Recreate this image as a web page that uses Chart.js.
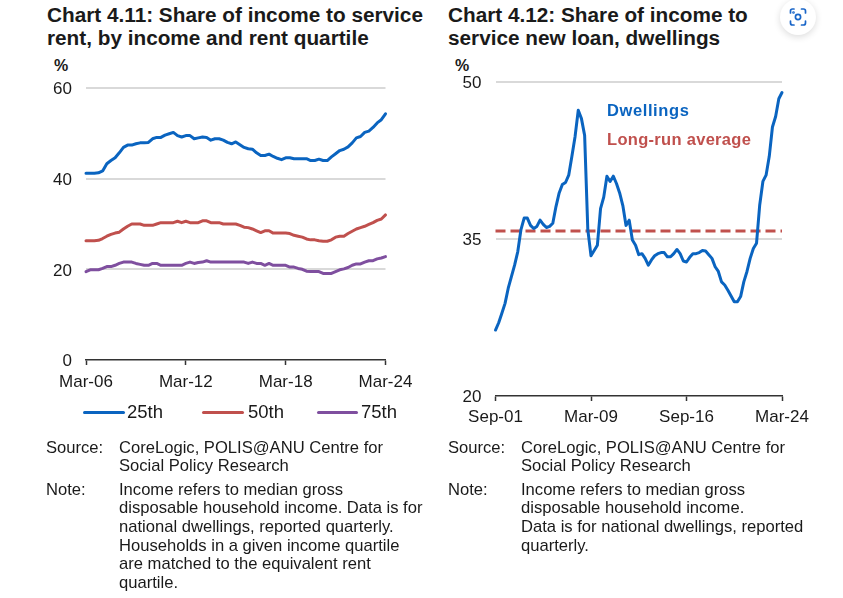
<!DOCTYPE html>
<html><head><meta charset="utf-8">
<script src="https://cdn.jsdelivr.net/npm/chart.js@4"></script>
<style>
html,body{margin:0;padding:0;background:#fff}
body{position:relative;width:843px;height:598px;overflow:hidden;font-family:"Liberation Sans",Arial,sans-serif;color:#1a1a1a}
canvas{position:absolute}
.t{position:absolute;white-space:nowrap}
.title{font-weight:bold;font-size:20.75px;line-height:23px}
.unit{font-weight:bold;font-size:16px}
.foot{font-size:16.6px;line-height:18.7px}
.leg{font-size:18.5px;line-height:20px}
.sw{position:absolute;height:3px;border-radius:2px}
.ann{font-weight:bold;font-size:16.5px;letter-spacing:.3px}
</style></head><body>
<div class="t title" style="left:47px;top:3px">Chart 4.11: Share of income to service<br>rent, by income and rent quartile</div>
<div class="t title" style="left:448px;top:3px">Chart 4.12: Share of income to<br>service new loan, dwellings</div>
<div class="t unit" style="left:54px;top:57px">%</div>
<div class="t unit" style="left:455px;top:57px">%</div>
<canvas id="c1" width="420" height="440" style="left:0;top:70px;width:420px;height:440px"></canvas>
<canvas id="c2" width="415" height="370" style="left:425px;top:70px;width:415px;height:370px"></canvas>
<div id="legend"></div>
<div class="t ann" style="left:607px;top:101px;color:#0a64c0;letter-spacing:.6px">Dwellings</div>
<div class="t ann" style="left:607px;top:130px;color:#c0504d">Long-run average</div>
<div class="t foot" style="left:46px;top:438.500px">Source:</div>
<div class="t foot" style="left:119px;top:438.500px">CoreLogic, POLIS@ANU Centre for<br>Social Policy Research</div>
<div class="t foot" style="left:46px;top:480.500px">Note:</div>
<div class="t foot" style="left:119px;top:480.500px">Income refers to median gross<br>disposable household income. Data is for<br>national dwellings, reported quarterly.<br>Households in a given income quartile<br>are matched to the equivalent rent<br>quartile.</div>
<div class="t foot" style="left:448px;top:438.500px">Source:</div>
<div class="t foot" style="left:521px;top:438.500px">CoreLogic, POLIS@ANU Centre for<br>Social Policy Research</div>
<div class="t foot" style="left:448px;top:480.500px">Note:</div>
<div class="t foot" style="left:521px;top:480.500px">Income refers to median gross<br>disposable household income.<br>Data is for national dwellings, reported<br>quarterly.</div>
<div style="position:absolute;left:780px;top:-1px;width:36px;height:36px;border-radius:50%;background:#fff;box-shadow:0 2px 7px rgba(0,0,0,.14)">
<svg width="36" height="36" viewBox="0 0 36 36" fill="none" stroke="#1a66c8" stroke-width="1.7" stroke-linecap="round">
<path d="M10.500 14v-2a2 2 0 0 1 2-2h1.500M21.500 10h2a2 2 0 0 1 2 2v2M25.500 22v2a2 2 0 0 1-2 2h-2M14 26h-1.500a2 2 0 0 1-2-2v-2"/>
<circle cx="18" cy="18" r="2.600"/><circle cx="13.500" cy="13.500" r=".5"/></svg></div>
<script>
const monthNames = ["Mar","Jun","Sep","Dec"];
function quarters(startYear, startQ, n){
  const out=[];
  for(let i=0;i<n;i++){
    const k=startQ+i, y=startYear+Math.floor(k/4);
    out.push(monthNames[k%4]+"-"+String(y%100).padStart(2,"0"));
  }
  return out;
}
const rentValues25 = [41.2,41.2,41.2,41.3,41.7,43.3,44,44.6,45.7,46.9,47.4,47.4,47.7,47.9,47.9,48,48.8,49.1,49.1,49.6,49.9,50.2,49.5,49.2,49.5,49.5,48.8,49,49.2,49.1,48.5,48.8,48.8,48.5,48,47.7,48.1,47.5,46.9,46.6,46.5,45.7,45.1,45.1,45.4,44.9,44.5,44.2,44.6,44.6,44.4,44.4,44.4,44.4,44,44,44.3,44,44,44.8,45.5,46.2,46.5,47,47.9,49,49.3,50.2,50.5,51.3,52.3,53,54.3];
const rentValues50 = [26.3,26.3,26.3,26.4,26.8,27.3,27.7,28,28.2,28.9,29.5,30,30,30,29.7,29.7,29.7,30,30.3,30.3,30.3,30.3,30.6,30.3,30.6,30.3,30.3,30.3,30.7,30.7,30.3,30.3,30.3,30,30,30,30,29.7,29.3,29.2,28.9,28.5,28.1,28.5,28.5,28,28,28,28,27.9,27.5,27.3,27.1,26.7,26.5,26.5,26.3,26.2,26.2,26.5,27.1,27.3,27.3,27.9,28.4,28.9,29.2,29.5,29.9,30.3,30.8,31.1,32];
const rentValues75 = [19.5,19.9,19.9,19.9,20.2,20.6,20.6,20.9,21.3,21.6,21.6,21.6,21.3,21.1,20.9,20.9,21.3,21.3,20.9,20.9,20.9,20.9,20.9,20.9,21.3,21.6,21.3,21.5,21.6,21.9,21.6,21.6,21.6,21.6,21.6,21.6,21.6,21.6,21.6,21.3,21.6,21.3,21.3,20.9,21.3,20.9,20.9,20.9,20.9,20.5,20.5,20.2,20,19.6,19.5,19.5,19.5,19.1,19.1,19.1,19.5,19.9,20.1,20.4,20.9,21.2,21.2,21.6,21.9,21.9,22.3,22.5,22.8];
const dwellingValues = [26.3,27,27.9,28.85,30.3,31.4,32.5,33.8,35.9,37,37,36.3,36,36.2,36.8,36.4,36.1,36.2,36.5,38.1,39.4,40.2,40.4,41.1,42.900,44.8,47.3,46.5,44.9,35.9,33.4,33.9,34.4,37.9,39,41,40.5,41,40.3,39.4,38.2,36.3,36.8,34.9,34.4,33.5,33.6,33.15,32.5,33,33.4,33.6,33.7,33.7,33.3,33.3,33.6,34,33.6,32.9,32.8,33.25,33.6,33.6,33.7,33.9,33.85,33.5,33.15,32.35,31.9,30.9,30.6,30.1,29.55,29,29,29.5,30.9,31.9,33.15,34.1,34.6,38.25,40.5,41.1,42.9,45.7,46.7,48.4,49];
const longRunAverage = 35.76;
const rentLabels = quarters(2006,0,rentValues25.length);
const loanLabels = quarters(2001,2,dwellingValues.length);
const rentTickIdx = [0,24,48,72];
const loanTickIdx = [0,30,60,90];
const rentYTicks = [0,20,40,60];
const loanYTicks = [20,35,50];
const BLUE="#0a64c0", RED="#c0504d", PURPLE="#7f4f9f", GRID="#d9d9d9", AXIS="#333", INK="#1a1a1a";
function noPad(s){s.paddingTop=0;s.paddingBottom=0;s.paddingLeft=0;s.paddingRight=0;}
function opts(tickIdx, yTicks, yW, xH, pad, xPad, yOff){
  return {
    responsive:false, animation:false, devicePixelRatio:1,
    layout:{padding:pad},
    plugins:{legend:{display:false},tooltip:{enabled:false}},
    elements:{point:{radius:0},line:{tension:0,borderWidth:3,borderCapStyle:"round",borderJoinStyle:"round"}},
    scales:{
      x:{type:"category",
        afterBuildTicks:s=>{s.ticks=s.ticks.filter(t=>tickIdx.includes(t.value));},
        afterFit:s=>{s.height=xH;noPad(s);},
        grid:{drawOnChartArea:false,drawTicks:true,tickLength:5,color:AXIS,tickWidth:1.5},
        border:{display:true,color:AXIS,width:1.5},
        ticks:{autoSkip:false,maxRotation:0,minRotation:0,padding:xPad,color:INK,font:{family:"Liberation Sans",size:17}}},
      y:{min:yTicks[0],max:yTicks[yTicks.length-1],
        afterBuildTicks:s=>{s.ticks=yTicks.map(v=>({value:v}));},
        afterFit:s=>{s.width=yW;noPad(s);},
        grid:{drawTicks:false,color:c=>c.tick.value===yTicks[0]?"rgba(0,0,0,0)":GRID,lineWidth:2},
        border:{display:false},
        ticks:{padding:14,labelOffset:yOff,color:INK,font:{family:"Liberation Sans",size:17}}}
    }
  };
}
new Chart(document.getElementById("c1"),{type:"line",
  data:{labels:rentLabels,datasets:[
    {label:"25th",data:rentValues25,borderColor:BLUE,clip:false},
    {label:"50th",data:rentValues50,borderColor:RED,clip:false},
    {label:"75th",data:rentValues75,borderColor:PURPLE,clip:false}]},
  options:opts(rentTickIdx,rentYTicks,86,150,{top:18,right:34.500,bottom:0,left:0},7,1.5)});
new Chart(document.getElementById("c2"),{type:"line",
  data:{labels:loanLabels,datasets:[
    {label:"Dwellings",data:dwellingValues,borderColor:BLUE,clip:false},
    {label:"Long-run average",data:loanLabels.map(()=>longRunAverage),borderColor:RED,borderDash:[10,5],borderCapStyle:"butt",clip:false}]},
  options:opts(loanTickIdx,loanYTicks,70.500,44,{top:12,right:58,bottom:0,left:0},6,1)});

const legendItems=[["25th",BLUE,83,42,127],["50th",RED,201.500,42,248],["75th",PURPLE,317,41,361]];
document.getElementById("legend").innerHTML=legendItems.map(([n,c,x,w,tx])=>
 `<div class="sw" style="left:${x}px;top:410.500px;width:${w}px;background:${c}"></div><div class="t leg" style="left:${tx}px;top:402px">${n}</div>`).join("");
</script>
</body></html>
